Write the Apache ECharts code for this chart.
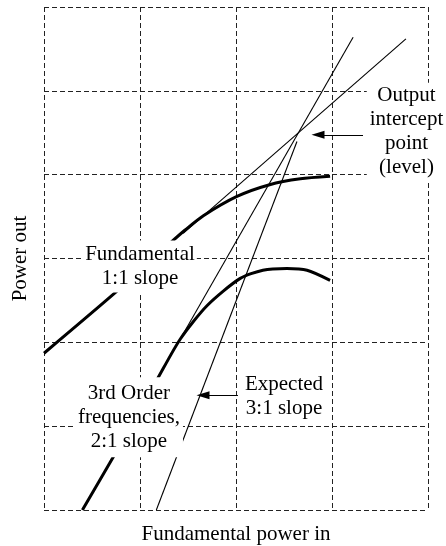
<!DOCTYPE html>
<html>
<head>
<meta charset="utf-8">
<style>
  html, body { margin: 0; padding: 0; background: #fff; }
  #chart { width: 446px; height: 546px; }
</style>
<script src="https://cdn.jsdelivr.net/npm/echarts@6/dist/echarts.min.js"></script>
</head>
<body>
<div id="chart"></div>
<script>
// Output power curves (grid units: one division per unit)
const fundamental = [[0, 1.87], [0.76, 2.61], [1.31, 3.18], [1.47, 3.34], [1.66, 3.51], [2.01, 3.74], [2.35, 3.88], [2.67, 3.95], [2.98, 3.98]];
const thirdOrder = [[0.4, 0], [0.72, 0.63], [1.18, 1.56], [1.42, 2.04], [1.70, 2.44], [2.04, 2.76], [2.28, 2.86], [2.53, 2.88], [2.74, 2.86], [2.98, 2.74]];

// Straight-line extrapolations
const slope1to1 = [[1.45, 3.30], [3.77, 5.62]];
const slope2to1 = [[1.40, 2.00], [3.22, 5.64]];
const slope3to1 = [[1.17, 0], [2.635, 4.395]];

// Annotation texts and where they sit
const noteTexts = ['Fundamental\n1:1 slope', '3rd Order\nfrequencies,\n2:1 slope', 'Expected\n3:1 slope', 'Output\nintercept\npoint\n(level)'];
const noteAnchors = [[1.0, 2.905], [0.885, 1.107], [2.5, 1.357], [3.776, 4.512]];
const notePadding = [[2, 2], [4, 3], [3, 7], [1, 3]];

// Arrows: [from, to]
const arrows = [
  [[3.323, 4.476], [2.854, 4.476]],
  [[2.073, 1.369], [1.656, 1.369]]
];

const xTicks = { min: 0, max: 4, interval: 1 };
const yTicks = { min: 0, max: 6, interval: 1 };

const FONT = 'Liberation Serif';
const gridLine = { show: true, lineStyle: { color: '#222', width: 1, type: [5, 3] } };

const chart = echarts.init(document.getElementById('chart'), null, { renderer: 'canvas' });

const thinLine = (data) => ({
  type: 'line', data: data, symbol: 'none', silent: true, z: 2,
  lineStyle: { color: '#000', width: 1.1 }
});
const thickLine = (data) => ({
  type: 'line', data: data, symbol: 'none', silent: true, z: 3,
  smooth: 0.25,
  lineStyle: { color: '#000', width: 3 }
});

chart.setOption({
  animation: false,
  backgroundColor: '#fff',
  grid: { left: 44, right: 18, top: 7, bottom: 36, outerBoundsMode: 'none', containLabel: false },
  xAxis: {
    type: 'value', min: xTicks.min, max: xTicks.max, interval: xTicks.interval,
    name: 'Fundamental power in', nameLocation: 'middle', nameGap: 14,
    nameTextStyle: { fontFamily: FONT, fontSize: 21, color: '#000' },
    axisLine: { show: false }, axisTick: { show: false }, axisLabel: { show: false },
    splitLine: gridLine
  },
  yAxis: {
    type: 'value', min: yTicks.min, max: yTicks.max, interval: yTicks.interval,
    name: 'Power out', nameLocation: 'middle', nameGap: 13,
    nameTextStyle: { fontFamily: FONT, fontSize: 21, color: '#000' },
    axisLine: { show: false }, axisTick: { show: false }, axisLabel: { show: false },
    splitLine: gridLine
  },
  series: [
    thinLine(slope1to1),
    thinLine(slope2to1),
    thinLine(slope3to1),
    thickLine(fundamental),
    thickLine(thirdOrder),
    {
      type: 'scatter', silent: true, z: 5,
      symbolSize: 1,
      itemStyle: { color: 'rgba(0,0,0,0)', opacity: 1 },
      data: noteTexts.map((t, i) => ({
        value: noteAnchors[i],
        label: {
          show: true, formatter: t, position: 'inside',
          align: 'center', verticalAlign: 'middle',
          fontFamily: FONT, fontSize: 21, lineHeight: 24, color: '#000',
          backgroundColor: '#fff', padding: notePadding[i], opacity: 1
        }
      }))
    },
    {
      type: 'line', data: [], silent: true, z: 10,
      markLine: {
        silent: true, animation: false,
        symbol: ['none', 'triangle'],
        symbolSize: [0, 12],
        label: { show: false },
        lineStyle: { color: '#000', width: 1.2, type: 'solid' },
        data: arrows.map(a => [
          { coord: a[0], symbol: 'none' },
          { coord: a[1], symbol: 'triangle', symbolSize: [8, 13] }
        ])
      }
    }
  ]
});
</script>
</body>
</html>
